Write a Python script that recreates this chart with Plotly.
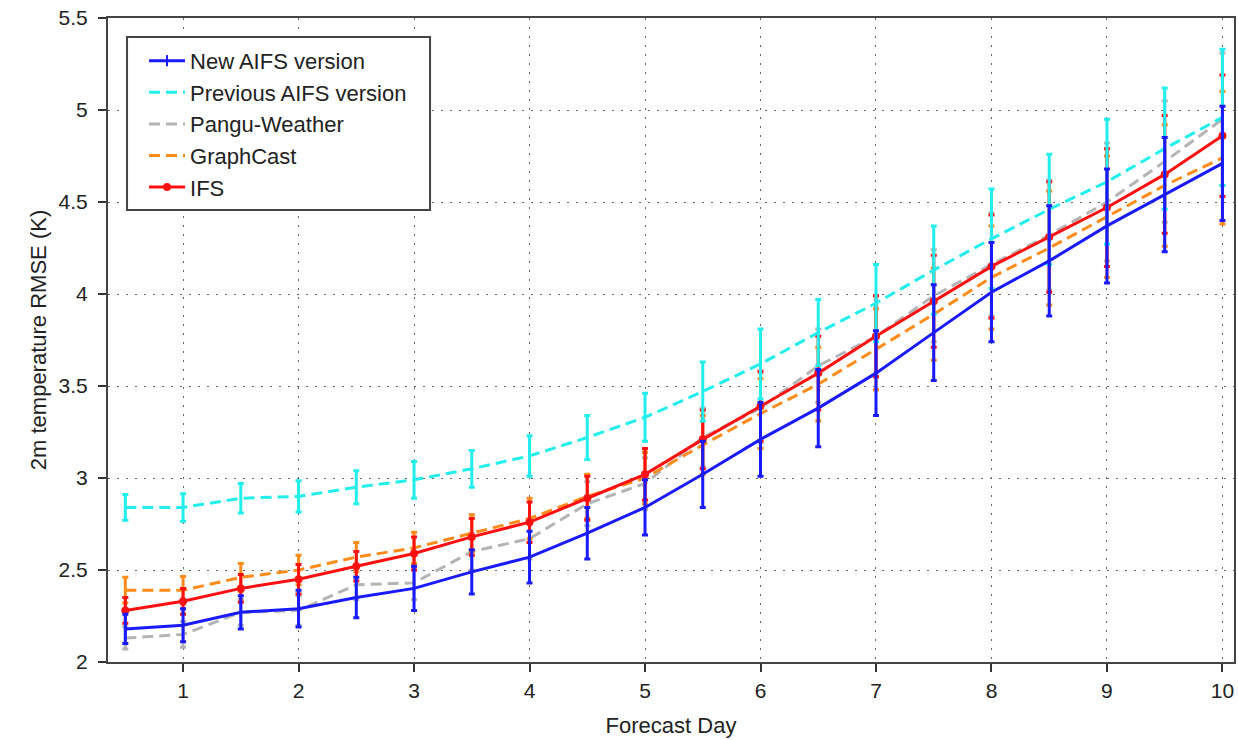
import plotly.graph_objects as go

days = [0.5, 1, 1.5, 2, 2.5, 3, 3.5, 4, 4.5, 5, 5.5, 6, 6.5, 7, 7.5, 8, 8.5, 9, 9.5, 10]

new_aifs = [2.18, 2.20, 2.27, 2.29, 2.35, 2.40, 2.49, 2.57, 2.70, 2.84, 3.02, 3.21, 3.38, 3.57, 3.79, 4.01, 4.18, 4.37, 4.54, 4.71]
new_aifs_err = [0.08, 0.09, 0.09, 0.10, 0.11, 0.12, 0.12, 0.14, 0.14, 0.15, 0.18, 0.20, 0.21, 0.23, 0.26, 0.27, 0.30, 0.31, 0.31, 0.31]

prev_aifs = [2.84, 2.84, 2.89, 2.90, 2.95, 2.99, 3.05, 3.12, 3.22, 3.33, 3.47, 3.62, 3.79, 3.95, 4.13, 4.30, 4.46, 4.61, 4.79, 4.96]
prev_aifs_err = [0.07, 0.075, 0.08, 0.085, 0.09, 0.10, 0.10, 0.11, 0.12, 0.13, 0.16, 0.19, 0.18, 0.21, 0.24, 0.27, 0.30, 0.34, 0.33, 0.37]

pangu = [2.13, 2.15, 2.27, 2.28, 2.42, 2.43, 2.60, 2.67, 2.86, 2.97, 3.22, 3.38, 3.61, 3.77, 3.99, 4.16, 4.32, 4.50, 4.72, 4.95]
pangu_err = [0.06, 0.07, 0.07, 0.08, 0.08, 0.09, 0.10, 0.11, 0.12, 0.14, 0.16, 0.19, 0.20, 0.22, 0.25, 0.28, 0.30, 0.32, 0.33, 0.36]

graphcast = [2.39, 2.39, 2.46, 2.50, 2.57, 2.62, 2.70, 2.78, 2.90, 3.00, 3.18, 3.35, 3.51, 3.70, 3.89, 4.09, 4.25, 4.42, 4.59, 4.74]
graphcast_err = [0.07, 0.075, 0.075, 0.08, 0.08, 0.085, 0.10, 0.11, 0.12, 0.14, 0.16, 0.19, 0.20, 0.22, 0.25, 0.28, 0.31, 0.33, 0.33, 0.36]

ifs = [2.28, 2.33, 2.40, 2.45, 2.52, 2.59, 2.68, 2.76, 2.89, 3.02, 3.21, 3.39, 3.57, 3.77, 3.96, 4.15, 4.31, 4.47, 4.65, 4.86]
ifs_err = [0.07, 0.07, 0.075, 0.08, 0.08, 0.09, 0.10, 0.11, 0.12, 0.14, 0.16, 0.19, 0.20, 0.22, 0.25, 0.28, 0.30, 0.32, 0.32, 0.33]

y_ticks = [2, 2.5, 3, 3.5, 4, 4.5, 5, 5.5]
y_tick_labels = ["2", "2.5", "3", "3.5", "4", "4.5", "5", "5.5"]
x_ticks = [1, 2, 3, 4, 5, 6, 7, 8, 9, 10]

FONT = "Liberation Sans, Arial, Helvetica, sans-serif"
DASH = "11px,6px"

def err(arr, color):
    return dict(type="data", array=arr, visible=True, color=color, thickness=3, width=3)

fig = go.Figure()

# drawn from back to front; legend order fixed by legendrank
fig.add_trace(go.Scatter(
    x=days, y=pangu, name="Pangu-Weather", mode="lines", legendrank=3,
    line=dict(color="#b4b4b4", width=3, dash=DASH),
    error_y=err(pangu_err, "#b4b4b4")))
fig.add_trace(go.Scatter(
    x=days, y=graphcast, name="GraphCast", mode="lines", legendrank=4,
    line=dict(color="#ff8c1a", width=3, dash=DASH),
    error_y=err(graphcast_err, "#ff8c1a")))
fig.add_trace(go.Scatter(
    x=days, y=ifs, name="IFS", mode="lines+markers", legendrank=5,
    line=dict(color="#ff1010", width=3),
    marker=dict(symbol="circle", size=8, color="#ff1010"),
    error_y=err(ifs_err, "#ff1010")))
fig.add_trace(go.Scatter(
    x=days, y=prev_aifs, name="Previous AIFS version", mode="lines", legendrank=2,
    line=dict(color="#22eeee", width=3, dash=DASH),
    error_y=err(prev_aifs_err, "#22eeee")))
fig.add_trace(go.Scatter(
    x=days, y=new_aifs, name="New AIFS version", mode="lines+markers", legendrank=1,
    line=dict(color="#1a1aff", width=3),
    marker=dict(symbol="line-ns", size=8, color="#1a1aff", line=dict(width=2, color="#1a1aff")),
    error_y=err(new_aifs_err, "#1a1aff")))

axis_common = dict(
    showline=True, linecolor="#444444", linewidth=2, mirror=True,
    ticks="outside", ticklen=8, tickwidth=1.5, tickcolor="#333333",
    showgrid=True, gridcolor="#666666", gridwidth=1.3, griddash="2px,7px",
    zeroline=False, automargin=False,
    tickfont=dict(family=FONT, size=21, color="#222222"),
)

fig.update_layout(
    width=1238, height=740,
    margin=dict(l=108, r=4, t=18, b=78),
    paper_bgcolor="white", plot_bgcolor="white",
    font=dict(family=FONT, size=21, color="#222222"),
    xaxis=dict(range=[0.35, 10.1], tickvals=x_ticks, ticklabelstandoff=1,
               title=dict(text="Forecast Day", font=dict(family=FONT, size=22), standoff=16),
               **axis_common),
    yaxis=dict(range=[2, 5.5], tickvals=y_ticks, ticktext=y_tick_labels, ticklabelstandoff=6,
               title=dict(text="2m temperature RMSE (K)", font=dict(family=FONT, size=22), standoff=6),
               **axis_common),
    legend=dict(x=0.032, y=0.966, xanchor="left", yanchor="top",
                bgcolor="rgba(0,0,0,0)", borderwidth=0,
                font=dict(family=FONT, size=22, color="#222222"),
                itemwidth=36, tracegroupgap=0),
    showlegend=True,
    shapes=[dict(type="rect", xref="paper", yref="paper",
                 x0=0.0169, x1=0.286, y0=0.7019, y1=0.9705,
                 line=dict(color="#444444", width=2), fillcolor="white", layer="above")],
)

fig.write_html("out.html",
               config={"displayModeBar": False},
               post_script="document.body.style.margin='0';document.body.style.overflow='hidden';")
